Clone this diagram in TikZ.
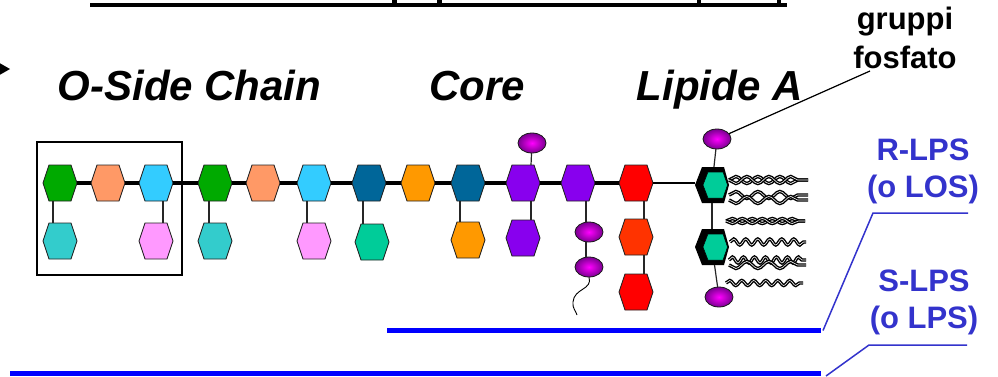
\documentclass[tikz,border=0pt]{standalone}
\usepackage{fontspec}
\setmainfont{Liberation Sans}
\usetikzlibrary{decorations.pathmorphing,shapes.geometric}

% sugar colours
\definecolor{hgreen}{HTML}{00AA00}
\definecolor{horange}{HTML}{FF9966}
\definecolor{hsky}{HTML}{33CCFF}
\definecolor{hteal}{HTML}{33CCCC}
\definecolor{hpink}{HTML}{FF99FF}
\definecolor{hnavy}{HTML}{006699}
\definecolor{hamber}{HTML}{FF9900}
\definecolor{hjade}{HTML}{00CC99}
\definecolor{hviolet}{HTML}{8800EE}
\definecolor{hred}{HTML}{FF0000}
\definecolor{hvermil}{HTML}{FF3300}
\definecolor{hexline}{HTML}{222222}
% labels and bars
\definecolor{lpsblue}{HTML}{3333CC}
\definecolor{barblue}{HTML}{0000FF}
% phosphate balls
\definecolor{phoscore}{HTML}{FF00FF}
\definecolor{phosrim}{HTML}{7A0090}

\tikzset{
  hexbox/.style={minimum width=34pt, minimum height=36pt, inner sep=0pt, outer sep=0pt},
  hexedge/.style={draw=hexline, line width=0.9pt, line join=round},
  lipbox/.style={minimum width=34pt, minimum height=36pt, inner sep=0pt, outer sep=0pt},
  phos/.style={ellipse, minimum width=28pt, minimum height=20pt, inner sep=0pt, outer sep=0pt,
    draw=black!90, line width=0.8pt, inner color=phoscore, outer color=phosrim},
  backbone/.style={line width=3.4pt},
  stem/.style={line width=1.2pt, draw=black!85},
  leader/.style={line width=1.2pt},
  biglabel/.style={font=\fontsize{42}{48}\selectfont\bfseries\itshape, inner sep=0pt},
  notelabel/.style={font=\fontsize{31}{37}\selectfont\bfseries, inner sep=0pt},
  bluelabel/.style={font=\fontsize{31}{37}\selectfont\bfseries, text=lpsblue, inner sep=0pt},
  thickbar/.style={draw=barblue, line width=5pt},
  thinbar/.style={draw=lpsblue, line width=1.5pt},
  strandA/.style 2 args={draw=black, line width=1.4pt, double=white, double distance=0.6pt,
    decorate, decoration={snake, segment length=#1, amplitude=#2}},
  strandB/.style 2 args={draw=black, line width=1.4pt, double=white, double distance=0.6pt,
    decorate, decoration={snake, segment length=#1, amplitude=#2, mirror}},
}

% a sugar ring: named box plus the hexagon drawn on it
\newcommand\sugar[3]{%
  \node[hexbox] (#1) at (#2) {};
  \filldraw[hexedge, fill=#3] (#1.west) -- ([xshift=6pt]#1.north west) -- ([xshift=-6pt]#1.north east)
    -- (#1.east) -- ([xshift=-6pt]#1.south east) -- ([xshift=6pt]#1.south west) -- cycle;}

% glucosamine of lipid A: heavy black rim, jade face
\newcommand\lipidsugar[2]{%
  \node[lipbox] (#1) at (#2) {};
  \fill[black] (#1.west) -- ([xshift=7pt]#1.north west) -- ([xshift=-5pt]#1.north east)
    -- (#1.east) -- ([xshift=-5pt]#1.south east) -- ([xshift=7pt]#1.south west) -- cycle;
  \filldraw[fill=hjade, draw=black, line width=0.5pt]
    ([xshift=8pt]#1.west) -- ([xshift=13pt,yshift=-5pt]#1.north west)
    -- ([xshift=-6pt,yshift=-5pt]#1.north east) -- ([xshift=-1.5pt]#1.east)
    -- ([xshift=-6pt,yshift=5pt]#1.south east) -- ([xshift=13pt,yshift=5pt]#1.south west) -- cycle;}

\begin{document}
\begin{tikzpicture}[x=1pt, y=-1pt]
\useasboundingbox (0,0) rectangle (998,376);

% title underline and the descenders reaching it
\draw[line width=4pt] (90,5) -- (787,5);
\fill (392,0) rectangle (397,4);
\fill (437,0) rectangle (442,4);
\fill (697,0) rectangle (701,4);
\fill (777,0) rectangle (781,4);

% pointer at the left edge
\fill (-4,61) -- (10,69) -- (-4,77) -- cycle;

% section labels
\node[biglabel, anchor=base] (osc) at (189.5,100) {O-Side Chain};
\node[biglabel, anchor=base] (core) at (477.5,100) {Core};
\node[biglabel, anchor=base] (lipa) at (719.5,100) {Lipide A};

\node[notelabel, anchor=base] (fos1) at (905,29) {gruppi};
\node[notelabel, anchor=base] (fos2) at (905,68) {fosfato};

% repeating unit
\node[draw, line width=1.2pt, minimum width=145pt, minimum height=133pt, inner sep=0pt] (unit) at (109.5,208.5) {};

% O-side chain
\sugar{g1}{60,183}{hgreen}
\sugar{o1}{108,183}{horange}
\sugar{b1}{156,183}{hsky}
\sugar{g2}{215,183}{hgreen}
\sugar{o2}{263,183}{horange}
\sugar{b2}{314,183}{hsky}
\sugar{t1}{60,241}{hteal}
\sugar{k1}{156,241}{hpink}
\sugar{t2}{215,241}{hteal}
\sugar{k2}{314,241}{hpink}

% core
\sugar{d1}{369,183}{hnavy}
\sugar{a1}{418,183}{hamber}
\sugar{d2}{468,183}{hnavy}
\sugar{u1}{523,183}{hviolet}
\sugar{u2}{578,183}{hviolet}
\sugar{r1}{636,183}{hred}
\sugar{e1}{372,242}{hjade}
\sugar{a2}{468,240}{hamber}
\sugar{u3}{523,238}{hviolet}
\sugar{r2}{636,237}{hvermil}
\sugar{r3}{636,292}{hred}

% lipid A
\lipidsugar{L1}{712,185}
\lipidsugar{L2}{712,247}

% phosphates
\node[phos] (p1) at (532,143) {};
\node[phos] (p2) at (589,232) {};
\node[phos] (p3) at (589,267) {};
\node[phos] (p4) at (717,139) {};
\node[phos] (p5) at (719,297) {};

% main chain
\draw[backbone] (g1) -- (o1) -- (b1) -- (g2) -- (o2) -- (b2) -- (d1) -- (a1) -- (d2) -- (u1) -- (u2) -- (r1);
\draw[backbone, line width=2.8pt] (r1.east) -- (r1.east -| L1.west);

% branches
\draw[stem] ([xshift=-7pt]g1.south) -- ([xshift=-7pt]t1.north);
\draw[stem] ([xshift=7pt]b1.south) -- ([xshift=7pt]k1.north);
\draw[stem] ([xshift=-6pt]g2.south) -- ([xshift=-6pt]t2.north);
\draw[stem] ([xshift=-7pt]b2.south) -- ([xshift=-7pt]k2.north);
\draw[stem] ([xshift=-6pt]d1.south) -- ([xshift=-9pt]e1.north);
\draw[stem] ([xshift=-8pt]d2.south) -- ([xshift=-8pt]a2.north);
\draw[stem] ([xshift=8pt]u1.south) -- ([xshift=8pt]u3.north);
\draw[stem] ([xshift=8pt]u1.north) -- (p1);
\draw[stem] ([xshift=8pt]u2.south) -- ([xshift=-3pt]p2.north);
\draw[stem] ([xshift=-3pt]p2.south) -- ([xshift=-3pt]p3.north);
\draw[stem] ([xshift=8pt]r1.south) -- ([xshift=8pt]r2.north);
\draw[stem] ([xshift=8pt]r2.south) -- ([xshift=8pt]r3.north);
\coordinate (tail) at (577,315);
\draw[line width=0.9pt] (p3.south) .. controls (593,290) and (574,288) .. (573,302)
  .. controls (572,308) and (576,311) .. (tail);

\draw[stem] (p4) -- (L1);
\draw[stem] (L1) -- (L2);
\draw[stem] (L2) -- (p5);

% leader to the phosphate note
\coordinate (fosend) at (870,71);
\draw[leader] (p4) -- (fosend);

% fatty acid chains
\coordinate (fa1a) at (729,180); \coordinate (fa1b) at (808,180);
\coordinate (fa2a) at (729,195); \coordinate (fa2b) at (808,195);
\coordinate (fa2c) at (729,200); \coordinate (fa2d) at (808,200);
\coordinate (fa3a) at (726,221); \coordinate (fa3b) at (805,221);
\coordinate (fa4a) at (730,242); \coordinate (fa4b) at (806,242);
\coordinate (fa5a) at (729,260); \coordinate (fa5b) at (806,260);
\coordinate (fa5c) at (729,265); \coordinate (fa5d) at (806,265);
\coordinate (fa6a) at (726,283); \coordinate (fa6b) at (803,283);
\draw[strandA={22pt}{3.5pt}] (fa1a) -- (fa1b);
\draw[strandB={22pt}{3.5pt}] (fa1a) -- (fa1b);
\draw[strandA={22pt}{3.5pt}] (fa2a) -- (fa2b);
\draw[strandB={22pt}{3.5pt}] (fa2c) -- (fa2d);
\draw[strandA={20pt}{2.5pt}] (fa3a) -- (fa3b);
\draw[strandB={20pt}{2.5pt}] (fa3a) -- (fa3b);
\draw[strandA={12pt}{3pt}] (fa4a) -- (fa4b);
\draw[strandA={11pt}{3pt}] (fa5a) -- (fa5b);
\draw[strandB={22pt}{3.5pt}] (fa5c) -- (fa5d);
\draw[strandA={12pt}{2.5pt}] (fa6a) -- (fa6b);

% R-LPS / S-LPS brackets
\coordinate (rbar0) at (387,330.5);
\coordinate (rbar1) at (821,330.5);
\coordinate (rknee) at (873,213);
\coordinate (rend) at (968,213);
\coordinate (sbar0) at (10,373.5);
\coordinate (sbar1) at (821,373.5);
\coordinate (sfoot) at (826,376);
\coordinate (sknee) at (869,345);
\coordinate (send) at (967,345);
\draw[thickbar] (rbar0) -- (rbar1);
\draw[thickbar] (sbar0) -- (sbar1);
\draw[thinbar] ([xshift=2pt]rbar1) -- (rknee) -- (rend);
\draw[thinbar] (sfoot) -- (sknee) -- (send);

\node[bluelabel, anchor=base] (rlps1) at (923,160) {R-LPS};
\node[bluelabel, anchor=base] (rlps2) at (923,197) {(o LOS)};
\node[bluelabel, anchor=base] (slps1) at (924,291) {S-LPS};
\node[bluelabel, anchor=base] (slps2) at (924,328) {(o LPS)};
\end{tikzpicture}
\end{document}
